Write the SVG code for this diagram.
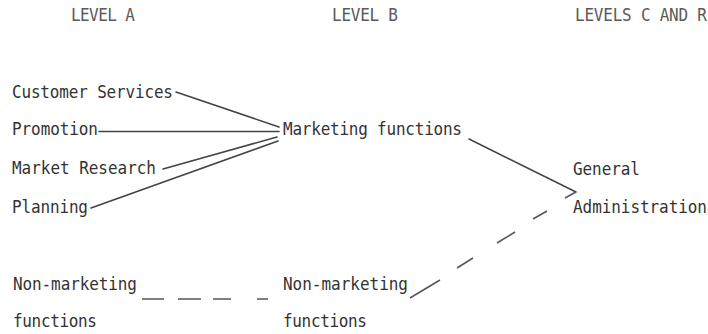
<svg xmlns="http://www.w3.org/2000/svg" width="708" height="334" viewBox="0 0 708 334">
<style>
text{font-family:"DejaVu Sans Mono","Liberation Mono",monospace;font-size:16px;fill:#333;}
.h{fill:#5a5a5a;}
.c{stroke:#444;stroke-width:1.6;fill:none;stroke-linecap:round;}
.d{stroke:#555;stroke-width:1.5;fill:none;}
</style>
<rect width="708" height="334" fill="#fff"/>
<g id="headers">
<text class="h" transform="translate(71,21) scale(1,1.1)" textLength="64">LEVEL A</text>
<text class="h" transform="translate(332,21) scale(1,1.1)" textLength="66">LEVEL B</text>
<text class="h" transform="translate(575,21) scale(1,1.1)" textLength="132">LEVELS C AND R</text>
</g>
<g id="customer-services"><text transform="translate(12,98) scale(1,1.12)" textLength="161">Customer Services</text></g>
<g id="promotion"><text transform="translate(12,135) scale(1,1.12)" textLength="86">Promotion</text></g>
<g id="market-research"><text transform="translate(12,174) scale(1,1.12)" textLength="144">Market Research</text></g>
<g id="planning"><text transform="translate(12,213) scale(1,1.12)" textLength="76">Planning</text></g>
<g id="marketing-functions"><text transform="translate(283,135) scale(1,1.12)" textLength="179">Marketing functions</text></g>
<g id="general-administration">
<text transform="translate(573,175) scale(1,1.12)" textLength="67">General</text>
<text transform="translate(573,213) scale(1,1.12)" textLength="134">Administration</text>
</g>
<g id="non-marketing-a">
<text transform="translate(13,290) scale(1,1.12)" textLength="124">Non-marketing</text>
<text transform="translate(13,327) scale(1,1.12)" textLength="84">functions</text>
</g>
<g id="non-marketing-b">
<text transform="translate(283,290) scale(1,1.12)" textLength="125">Non-marketing</text>
<text transform="translate(283,327) scale(1,1.12)" textLength="84">functions</text>
</g>
<g id="connectors">
<line class="c" x1="176" y1="92" x2="279" y2="127"/>
<line class="c" x1="99" y1="131.5" x2="279" y2="131.5"/>
<line class="c" x1="163" y1="169" x2="277" y2="137"/>
<line class="c" x1="91" y1="208" x2="278" y2="141"/>
<line class="c" x1="469" y1="139" x2="576" y2="192"/>
<line class="d" x1="142" y1="299" x2="164" y2="299"/>
<line class="d" x1="178" y1="299" x2="201" y2="299"/>
<line class="d" x1="213" y1="299" x2="231" y2="299"/>
<line class="d" x1="257" y1="299" x2="268" y2="299"/>
<line class="d" x1="410" y1="298" x2="440" y2="280"/>
<line class="d" x1="457" y1="268" x2="473" y2="258"/>
<line class="d" x1="497" y1="243" x2="515" y2="232"/>
<line class="d" x1="533" y1="219" x2="547" y2="211"/>
<line class="d" x1="565" y1="198" x2="576" y2="192"/>
</g>
</svg>
